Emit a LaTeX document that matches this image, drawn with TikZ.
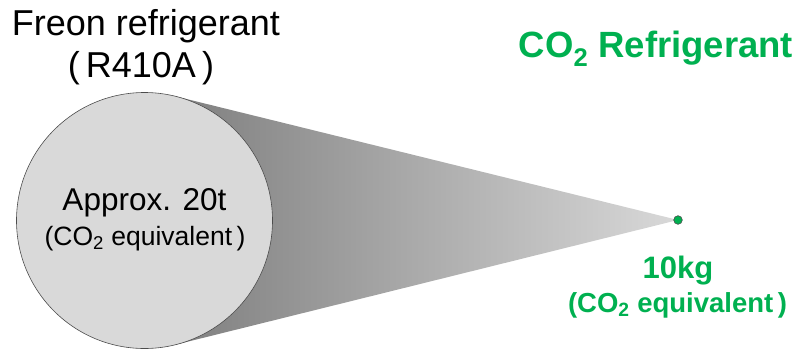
\documentclass[tikz,border=0pt]{standalone}
\usepackage{fontspec}
\setmainfont{Liberation Sans}
\definecolor{cogreen}{HTML}{00B050}
\definecolor{discfill}{HTML}{D9D9D9}
\begin{document}
\begin{tikzpicture}[x=1bp, y=-1bp, line join=round, line cap=round,
	lbl/.style={inner sep=0pt, anchor=base},
	green lbl/.style={lbl, text=cogreen, font=\bfseries\fontsize{#1bp}{#1bp}\selectfont}]
	\useasboundingbox (0,0) rectangle (800,348);
	\path
	(144.5,220.5) coordinate (O)
	(678,220) coordinate (T)
	(O) + (76:128) coordinate (U)
	(O) + (-76:128) coordinate (L);
	
	% cone towards the small charge
	\shade[left color=black!50, right color=black!15] (U) -- (T) -- (L) -- cycle;
	\draw[black!70, fill=discfill, line width=0.6bp] (O) circle (128);
	\draw[fill=cogreen, draw=black!70, line width=0.6bp] (T) circle (4.3);
	
	\node[lbl, font=\fontsize{36bp}{36bp}\selectfont] (freon) at (146,35) {Freon refrigerant};
	\node[lbl, font=\fontsize{36bp}{36bp}\selectfont] (r410) at (141,77) {(\,R410A\,)};
	\node[lbl, font=\fontsize{31.5bp}{31.5bp}\selectfont] (big) at (144.5,210) {Approx. 20t};
	\node[lbl, font=\fontsize{26.5bp}{26.5bp}\selectfont] (bigeq) at (145,245) {(CO\textsubscript{2} equivalent\,)};
	\node[green lbl=36.5] (co2) at (656,57) {CO\textsubscript{2} Refrigerant};
	\node[green lbl=31] (small) at (678,278) {10kg};
	\node[green lbl=27.5] (smalleq) at (677.5,312) {(CO\textsubscript{2} equivalent\,)};
\end{tikzpicture}
\end{document}
